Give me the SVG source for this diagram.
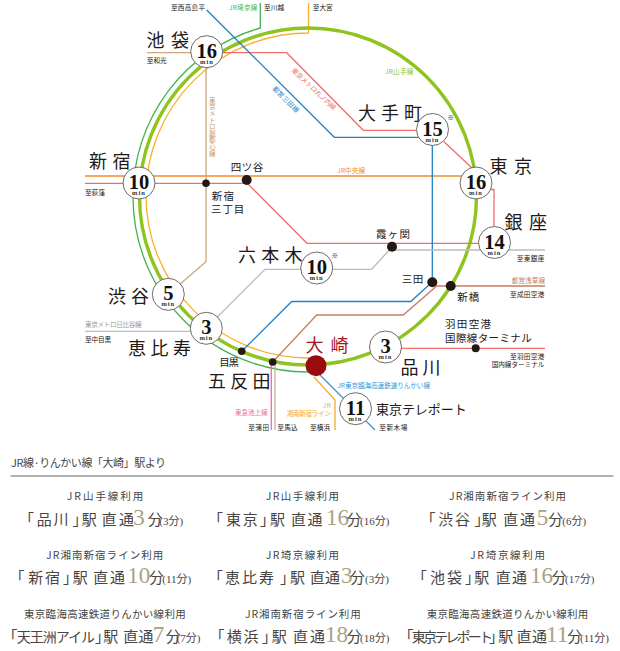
<svg xmlns="http://www.w3.org/2000/svg" width="620" height="651" viewBox="0 0 620 651">
<style>
text{font-family:"Noto Sans CJK JP","Noto Sans",sans-serif;fill:#231815}
.s{font-size:6.6px}
.st{font-size:18px}
.sm{font-size:10.5px}
.n{font-family:"Liberation Serif",serif;font-weight:700;font-size:20.5px;text-anchor:middle;fill:#111}
.m{font-family:"Liberation Serif",serif;font-weight:700;font-size:6.5px;text-anchor:middle;letter-spacing:1px;fill:#333}
.c{fill:#fff;stroke:#6e6a68;stroke-width:1}
.d{fill:#231815}
.l{fill:none;stroke-width:1.3}
.lb{font-size:10.5px;fill:#444}
.mn{font-size:15px;fill:#4a4542}
.t{font-size:14px;fill:#4a4542}
.num{font-family:"Liberation Serif",serif;font-size:23px;fill:#a8a283}
.pr{font-family:"Liberation Serif","Noto Sans CJK JP",serif;font-size:11px;fill:#4a4542}
.red{stroke:#ee6e6e}.blue{stroke:#1f80c6}.tan{stroke:#cfa57c}.grey{stroke:#bdbdbd}.brown{stroke:#c67e64}
</style>
<g id="connectors">
<path class="l" stroke="#3fb54e" d="M260.3 3V28A175 175 0 0 0 133 197A175 175 0 0 0 308 372H316"/>
<path class="l" stroke="#f8b02c" d="M308.5 3V33A162.5 162.5 0 0 0 146 195.5A162.5 162.5 0 0 0 308.5 358H316"/>
<circle cx="308" cy="196.5" r="168.5" fill="none" stroke="#8fc31f" stroke-width="3.4"/>
<path class="l" stroke="#f18d2b" d="M85 176H476"/>
<path class="l red" d="M85 183.3H246.7M245 181L307 243.3H494"/>
<path class="l red" d="M207 52.7H286.7L363.3 130.3H432M444 141.7L472 168"/>
<path class="l red" d="M476 189.5H494V243"/>
<path class="l blue" d="M206.7 10L334.3 137.3H432.3V282L410.7 301.5H291.7L241.7 351.3"/>
<path class="l brown" d="M545 286H436.7L403.3 315H316.7L272.7 362"/>
<path class="l grey" d="M85 331.3H206.3M206.3 328L265 269.3H371.7L392 247M392 250H545"/>
<path class="l tan" d="M147 52.7H207M206 52V261.7L168.3 294.3"/>
<path class="l" stroke="#ec6ea8" d="M271.3 362V430"/>
<path class="l" stroke="#dfa496" d="M275 362V430"/>
<path class="l" stroke="#f8a92c" d="M314 377L335 400V430"/>
<path class="l" stroke="#3a96d6" d="M316 371L375 430"/>
<path class="l red" d="M386 348.3H545"/>
</g>
<g id="line-labels">
<text class="s" x="229" y="9.5" style="fill:#3fb54e" textLength="28.3">JR埼京線</text>
<text class="s" x="385" y="74" style="fill:#8fc31f" textLength="28.3">JR山手線</text>
<text class="s" x="337.3" y="172.5" style="fill:#f18d2b" textLength="27.7">JR中央線</text>
<text class="s" transform="translate(291 71) rotate(43)" style="fill:#ee6e6e" textLength="58">東京メトロ丸ノ内線</text>
<text class="s" transform="translate(272 89) rotate(45)" style="fill:#1f80c6" textLength="34">都営三田線</text>
<text class="s" x="212.3" y="97" style="fill:#c99a68;writing-mode:vertical-rl;text-orientation:upright">東京メトロ副都心線</text>
<text class="s" x="511.7" y="282.5" style="fill:#c67e64" textLength="33.3">都営浅草線</text>
<text class="s" x="337.3" y="387.5" style="fill:#3a96d6" textLength="92.7">JR東京臨海高速鉄道りんかい線</text>
<text class="s" x="322.7" y="407.5" style="fill:#f8a92c" textLength="8.3">JR</text>
<text class="s" x="286.7" y="415.8" style="fill:#f8a92c" textLength="44.3">湘南新宿ライン</text>
<text class="s" x="235" y="414.5" style="fill:#ec6ea8" textLength="32.7">東急池上線</text>
<text class="s" x="85" y="327.2" style="fill:#999" textLength="56.7">東京メトロ日比谷線</text>
</g>
<g id="terminal-labels">
<text class="s" x="171" y="9.5" textLength="34">至西高島平</text>
<text class="s" x="264" y="9.5" textLength="20">至川越</text>
<text class="s" x="312.7" y="9.5" textLength="20">至大宮</text>
<text class="s" x="146.7" y="63.2" textLength="20">至和光</text>
<text class="s" x="85" y="195.2" textLength="20">至荻窪</text>
<text class="s" x="516.7" y="260.8" textLength="27.6">至東銀座</text>
<text class="s" x="510" y="296.8" textLength="34.3">至成田空港</text>
<text class="s" x="510" y="358.5" textLength="34.3">至羽田空港</text>
<text class="s" x="491.7" y="367.2" textLength="52.6">国内線ターミナル</text>
<text class="s" x="310" y="429.5" textLength="20">至横浜</text>
<text class="s" x="379.3" y="429.5" textLength="28">至新木場</text>
<text class="s" x="248.3" y="429.5" textLength="20.7">至蒲田</text>
<text class="s" x="277.3" y="429.5" textLength="20.4">至馬込</text>
<text class="s" x="85" y="342.2" textLength="26">至中目黒</text>
<text class="s" x="447.5" y="120">※</text>
<text class="s" x="331.5" y="257.5">※</text>
</g>
<g id="ikebukuro"><circle class="c" cx="206.7" cy="51.7" r="16"/><text class="n" x="206.7" y="57.5">16</text><text class="m" x="207" y="63.5">min</text><text class="st" x="146.5" y="46.5" textLength="42.5">池袋</text></g>
<g id="shinjuku"><circle class="c" cx="139" cy="183" r="16"/><text class="n" x="139" y="189">10</text><text class="m" x="139" y="195">min</text><text class="st" x="89" y="167.5" textLength="41.5">新宿</text></g>
<g id="otemachi"><circle class="c" cx="432.5" cy="129.5" r="16"/><text class="n" x="432.5" y="135.5">15</text><text class="m" x="432.5" y="141.5">min</text><text class="st" x="358" y="119.5" textLength="64">大手町</text></g>
<g id="tokyo"><circle class="c" cx="476" cy="183" r="16"/><text class="n" x="476" y="189">16</text><text class="m" x="476" y="195">min</text><text class="st" x="489.5" y="172.5" textLength="42.5">東京</text></g>
<g id="ginza"><circle class="c" cx="494.5" cy="242.5" r="16"/><text class="n" x="494.5" y="248.5">14</text><text class="m" x="494.5" y="254.5">min</text><text class="st" x="504.5" y="228.5" textLength="42.5">銀座</text></g>
<g id="roppongi"><circle class="c" cx="316.7" cy="268" r="16"/><text class="n" x="316.7" y="274">10</text><text class="m" x="316.7" y="280">min</text><text class="st" x="238" y="261.5" textLength="64.5">六本木</text></g>
<g id="shibuya"><circle class="c" cx="168.3" cy="294.3" r="16"/><text class="n" x="168.3" y="300.3">5</text><text class="m" x="168.3" y="306.3">min</text><text class="st" x="108" y="302.5" textLength="41">渋谷</text></g>
<g id="ebisu"><circle class="c" cx="206.3" cy="328.3" r="16"/><text class="n" x="206.3" y="334.3">3</text><text class="m" x="206.3" y="340.3">min</text><text class="st" x="128" y="354.5" textLength="63">恵比寿</text></g>
<g id="shinagawa"><circle class="c" cx="385.5" cy="347" r="16"/><text class="n" x="385.5" y="353">3</text><text class="m" x="385.5" y="359">min</text><text class="st" x="400.5" y="373.5" textLength="40">品川</text></g>
<g id="teleport"><circle class="c" cx="355.5" cy="408.7" r="16"/><text class="n" x="355.5" y="414.7">11</text><text class="m" x="355.5" y="420.7">min</text><text x="376" y="413.5" style="font-size:13px" textLength="90.7">東京テレポート</text></g>
<g id="osaki"><circle cx="316" cy="365.7" r="10.5" fill="#9a0b10"/><text class="st" x="305.5" y="351.5" style="fill:#a3141c" textLength="43">大崎</text></g>
<g id="yotsuya"><circle class="d" cx="246.7" cy="180" r="5"/><text class="sm" x="230.7" y="170.5" textLength="32.6">四ツ谷</text></g>
<g id="shinjuku-sanchome"><circle class="d" cx="206" cy="183.3" r="3.8"/><text class="sm" x="211.7" y="200" textLength="22.3">新宿</text><text class="sm" x="211" y="213" textLength="33.3">三丁目</text></g>
<g id="kasumigaseki"><circle class="d" cx="392" cy="246.7" r="5"/><text class="sm" x="376" y="238" textLength="34">霞ヶ関</text></g>
<g id="mita"><circle class="d" cx="432.3" cy="282.3" r="5"/><text class="sm" x="401.7" y="282.5" textLength="21.6">三田</text></g>
<g id="shimbashi"><circle class="d" cx="450.7" cy="286" r="5"/><text class="sm" x="457.3" y="300.5" textLength="22">新橋</text></g>
<g id="meguro"><circle class="d" cx="241.7" cy="351.3" r="3.8"/><text class="sm" x="219.3" y="366" textLength="19.7">目黒</text></g>
<g id="gotanda"><circle class="d" cx="272.7" cy="362" r="3.8"/><text class="st" x="208" y="387.5" textLength="62.5">五反田</text></g>
<g id="haneda"><circle class="d" cx="475.7" cy="348.3" r="4"/><text class="sm" x="445" y="327.5" textLength="46">羽田空港</text><text class="sm" x="445" y="341.5" textLength="86.7">国際線ターミナル</text></g>
<g id="table">
<text x="11" y="467" style="font-size:11px;fill:#444" textLength="155">JR線·りんかい線「大崎」駅より</text>
<path d="M10.5 476H613.5" stroke="#666" stroke-width="1" fill="none"/>
<text class="lb" x="66.7" y="500" textLength="76.6">JR山手線利用</text>
<text class="lb" x="265.7" y="500" textLength="73.3">JR山手線利用</text>
<text class="lb" x="449" y="500" textLength="117">JR湘南新宿ライン利用</text>
<text class="lb" x="46" y="558.5" textLength="117.3">JR湘南新宿ライン利用</text>
<text class="lb" x="265.7" y="558.5" textLength="73.3">JR埼京線利用</text>
<text class="lb" x="470" y="558.5" textLength="75">JR埼京線利用</text>
<text class="lb" x="24" y="617.5" textLength="161.7">東京臨海高速鉄道りんかい線利用</text>
<text class="lb" x="245" y="617.5" textLength="115.7">JR湘南新宿ライン利用</text>
<text class="lb" x="426.7" y="617.5" textLength="161.6">東京臨海高速鉄道りんかい線利用</text>

<text y="525"><tspan class="mn" x="19">「</tspan><tspan class="mn" x="36.7">品</tspan><tspan class="mn" x="53.5">川</tspan><tspan class="mn" x="72.5">」</tspan><tspan class="mn" x="81.7">駅</tspan><tspan class="mn" x="101.7">直</tspan><tspan class="mn" x="119">通</tspan><tspan class="num" x="133.3">3</tspan><tspan class="mn" x="147.7">分</tspan><tspan class="pr" x="159.3">(3分)</tspan></text>
<text y="525"><tspan class="mn" x="208">「</tspan><tspan class="mn" x="226">東</tspan><tspan class="mn" x="242.7">京</tspan><tspan class="mn" x="260">」</tspan><tspan class="mn" x="270">駅</tspan><tspan class="mn" x="291">直</tspan><tspan class="mn" x="307.5">通</tspan><tspan class="num" x="326">16</tspan><tspan class="mn" x="346.7">分</tspan><tspan class="pr" x="360">(16分)</tspan></text>
<text y="525"><tspan class="mn" x="420.5">「</tspan><tspan class="mn" x="438.3">渋</tspan><tspan class="mn" x="455">谷</tspan><tspan class="mn" x="474.5">」</tspan><tspan class="mn" x="481.7">駅</tspan><tspan class="mn" x="503.3">直</tspan><tspan class="mn" x="520">通</tspan><tspan class="num" x="536.7">5</tspan><tspan class="mn" x="548.3">分</tspan><tspan class="pr" x="562.3">(6分)</tspan></text>

<text y="583"><tspan class="mn" x="9.5">「</tspan><tspan class="mn" x="28.3">新</tspan><tspan class="mn" x="45">宿</tspan><tspan class="mn" x="63">」</tspan><tspan class="mn" x="72.7">駅</tspan><tspan class="mn" x="93.3">直</tspan><tspan class="mn" x="110">通</tspan><tspan class="num" x="127.3">10</tspan><tspan class="mn" x="149">分</tspan><tspan class="pr" x="162.3">(11分)</tspan></text>
<text y="583"><tspan class="mn" x="208">「</tspan><tspan class="mn" x="225">恵</tspan><tspan class="mn" x="242">比</tspan><tspan class="mn" x="259">寿</tspan><tspan class="mn" x="280">」</tspan><tspan class="mn" x="290">駅</tspan><tspan class="mn" x="310">直</tspan><tspan class="mn" x="325">通</tspan><tspan class="num" x="341">3</tspan><tspan class="mn" x="350">分</tspan><tspan class="pr" x="365">(3分)</tspan></text>
<text y="583"><tspan class="mn" x="412">「</tspan><tspan class="mn" x="430">池</tspan><tspan class="mn" x="447">袋</tspan><tspan class="mn" x="465">」</tspan><tspan class="mn" x="474.3">駅</tspan><tspan class="mn" x="495.7">直</tspan><tspan class="mn" x="512">通</tspan><tspan class="num" x="530">16</tspan><tspan class="mn" x="551.7">分</tspan><tspan class="pr" x="565">(17分)</tspan></text>

<text y="642"><tspan class="mn" x="2.5">「</tspan><tspan class="t" x="16.7" style="letter-spacing:-1px">天王洲アイル</tspan><tspan class="mn" x="95">」</tspan><tspan class="mn" x="103.3">駅</tspan><tspan class="mn" x="123.3">直</tspan><tspan class="mn" x="138.5">通</tspan><tspan class="num" x="152.7">7</tspan><tspan class="mn" x="165.7">分</tspan><tspan class="pr" x="176.7">(7分)</tspan></text>
<text y="642"><tspan class="mn" x="209.5">「</tspan><tspan class="mn" x="226.7">横</tspan><tspan class="mn" x="243.5">浜</tspan><tspan class="mn" x="262">」</tspan><tspan class="mn" x="271.7">駅</tspan><tspan class="mn" x="293">直</tspan><tspan class="mn" x="310">通</tspan><tspan class="num" x="325">18</tspan><tspan class="mn" x="346.7">分</tspan><tspan class="pr" x="360">(18分)</tspan></text>
<text y="642"><tspan class="mn" x="398.5">「</tspan><tspan class="t" x="411.7" style="letter-spacing:-2.8px">東京テレポート</tspan><tspan class="mn" x="489">」</tspan><tspan class="mn" x="498.3">駅</tspan><tspan class="mn" x="516.7">直</tspan><tspan class="mn" x="532">通</tspan><tspan class="num" x="546">11</tspan><tspan class="mn" x="567.3">分</tspan><tspan class="pr" x="580">(11分)</tspan></text>
</g>
</svg>
